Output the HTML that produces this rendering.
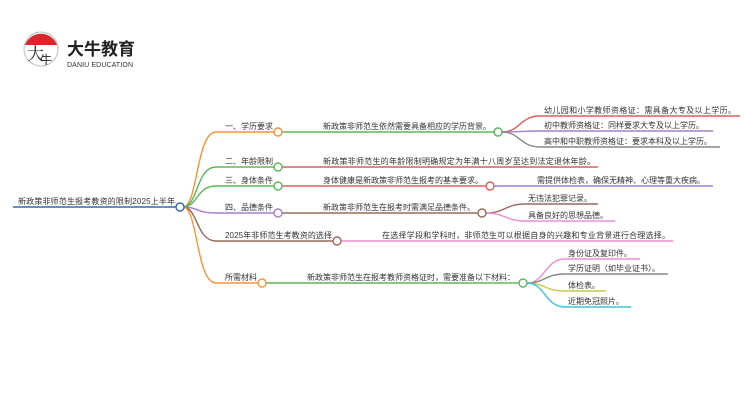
<!DOCTYPE html>
<html><head><meta charset="utf-8"><style>
html,body{margin:0;padding:0;background:#fff;width:750px;height:410px;overflow:hidden}
svg text{font-family:"Liberation Sans","Noto Sans CJK SC",sans-serif;font-size:8px;fill:#333}
</style></head><body>
<svg width="750" height="410" viewBox="0 0 750 410" xmlns="http://www.w3.org/2000/svg">
<!-- logo -->
<circle cx="41" cy="49" r="17" fill="#fff" stroke="#bbb" stroke-width="1"/>
<path d="M25,45 A17,17 0 0 1 57,45 Z" fill="#d9262b"/>
<text x="27" y="60" style="font-size:17px;fill:#222;font-family:'Noto Serif CJK SC',serif">大</text>
<text x="40" y="64" style="font-size:12px;fill:#222">牛</text>
<text x="67" y="55" textLength="68" style="font-size:17px;font-weight:bold;fill:#222">大牛教育</text>
<text x="67" y="67" textLength="66" style="font-size:7px;fill:#333">DANIU EDUCATION</text>

<g fill="none" stroke-width="1.4">
<path d="M13,207 L177,207" stroke="#2d6db5"/>
<path d="M183,207 C198,207 196,132 216,132 L274,132" stroke="#f7943a"/>
<path d="M183,207 C198,207 196,167 216,167 L274,167" stroke="#5cb85c"/>
<path d="M183,207 C198,207 196,186 216,186 L274,186" stroke="#5cb85c"/>
<path d="M183,207 C198,207 196,213 216,213 L274,213" stroke="#a57fcf"/>
<path d="M183,207 C198,207 196,241 216,241 L333,241" stroke="#9a6a5c"/>
<path d="M183,207 C198,207 196,283 216,283 L258,283" stroke="#f7943a"/>
<path d="M282,132 L494,132" stroke="#5cb85c"/>
<path d="M282,167 L598,167" stroke="#e05c5c"/>
<path d="M282,186 L486,186" stroke="#e05c5c"/>
<path d="M282,213 L478,213" stroke="#9a6a5c"/>
<path d="M341,241 L673,241" stroke="#ee8fd6"/>
<path d="M266,283 L519,283" stroke="#5cb85c"/>
<path d="M502,132 C520,132 520,116 540,116 L740,116" stroke="#e05c5c"/>
<path d="M502,132 C520,132 520,131 540,131 L713,131" stroke="#a57fcf"/>
<path d="M502,132 C520,132 520,147 540,147 L720,147" stroke="#888"/>
<path d="M494,186 L713,186" stroke="#a57fcf"/>
<path d="M486,213 C505,213 505,204 525,204 L598,204" stroke="#9a6a5c"/>
<path d="M486,213 C505,213 505,221 525,221 L615,221" stroke="#ee8fd6"/>
<path d="M527,283 C545,283 545,259 565,259 L640,259" stroke="#ee8fd6"/>
<path d="M527,283 C545,283 545,274 565,274 L668,274" stroke="#888"/>
<path d="M527,283 C545,283 545,291 565,291 L606,291" stroke="#c9c94a"/>
<path d="M527,283 C545,283 545,307 565,307 L631,307" stroke="#3fc3dc"/>
</g>
<g fill="#fff" stroke-width="1.4">
<circle cx="180" cy="207" r="4" stroke="#2d6db5"/>
<circle cx="278" cy="132" r="4" stroke="#f7943a"/>
<circle cx="278" cy="167" r="4" stroke="#5cb85c"/>
<circle cx="278" cy="186" r="4" stroke="#5cb85c"/>
<circle cx="278" cy="213" r="4" stroke="#a57fcf"/>
<circle cx="337" cy="241" r="4" stroke="#9a6a5c"/>
<circle cx="262" cy="283" r="4" stroke="#f7943a"/>
<circle cx="498" cy="132" r="4" stroke="#5cb85c"/>
<circle cx="490" cy="186" r="4" stroke="#e05c5c"/>
<circle cx="482" cy="213" r="4" stroke="#9a6a5c"/>
<circle cx="523" cy="283" r="4" stroke="#5cb85c"/>
</g>
<text x="18" y="204" textLength="157">新政策非师范生报考教资的限制2025上半年</text>
<text x="225" y="129">一、学历要求</text>
<text x="225" y="164">二、年龄限制</text>
<text x="225" y="183">三、身体条件</text>
<text x="225" y="210">四、品德条件</text>
<text x="225" y="238" textLength="107">2025年非师范生考教资的选择</text>
<text x="225" y="280">所需材料</text>
<text x="323" y="129" textLength="168">新政策非师范生依然需要具备相应的学历背景。</text>
<text x="323" y="164" textLength="272">新政策非师范生的年龄限制明确规定为年满十八周岁至达到法定退休年龄。</text>
<text x="323" y="183" textLength="160">身体健康是新政策非师范生报考的基本要求。</text>
<text x="323" y="210" textLength="152">新政策非师范生在报考时需满足品德条件。</text>
<text x="382" y="238" textLength="288">在选择学段和学科时，非师范生可以根据自身的兴趣和专业背景进行合理选择。</text>
<text x="307" y="280" textLength="208">新政策非师范生在报考教师资格证时，需要准备以下材料：</text>
<text x="544" y="113" textLength="192">幼儿园和小学教师资格证：需具备大专及以上学历。</text>
<text x="544" y="128" textLength="160">初中教师资格证：同样要求大专及以上学历。</text>
<text x="544" y="144" textLength="168">高中和中职教师资格证：要求本科及以上学历。</text>
<text x="537" y="183" textLength="168">需提供体检表，确保无精神、心理等重大疾病。</text>
<text x="528" y="201">无违法犯罪记录。</text>
<text x="528" y="218">具备良好的思想品德。</text>
<text x="568" y="256">身份证及复印件。</text>
<text x="568" y="271">学历证明（如毕业证书）。</text>
<text x="568" y="288">体检表。</text>
<text x="568" y="304">近期免冠照片。</text>
</svg>
</body></html>
